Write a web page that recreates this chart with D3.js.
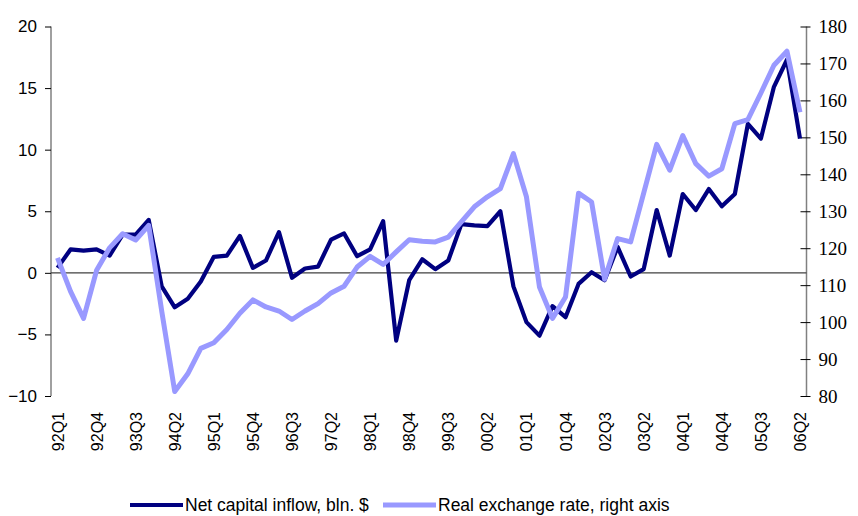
<!DOCTYPE html>
<html>
<head>
<meta charset="utf-8">
<script src="https://cdn.jsdelivr.net/npm/d3@7"></script>
<style>
  body { margin: 0; background: #fff; }
  svg { display: block; }
</style>
</head>
<body>
<svg id="chart" width="858" height="516"></svg>
<script>
// quarters 92Q1 .. 06Q2
const quarters = [];
for (let y = 1992; y <= 2006; y++) {
    for (let q = 1; q <= 4; q++) {
        if (y === 2006 && q > 2) break;
        quarters.push(String(y % 100).padStart(2, "0") + "Q" + q);
    }
}

// Net capital inflow, bln. $ (left axis)
const capitalInflow = [
    0.4, 1.9, 1.8, 1.9, 1.4, 3.1, 3.1, 4.3, -1.1, -2.8,
    -2.1, -0.7, 1.3, 1.4, 3.0, 0.4, 1.0, 3.3, -0.4, 0.35,
    0.5, 2.7, 3.2, 1.35, 1.9, 4.2, -5.5, -0.6, 1.1, 0.3,
    1.0, 3.95, 3.85, 3.8, 5.0, -1.1, -4.0, -5.1, -2.7, -3.6,
    -0.9, 0.05, -0.6, 2.1, -0.3, 0.3, 5.1, 1.4, 6.4, 5.1,
    6.8, 5.4, 6.4, 12.1, 10.9, 15.1, 17.3, 10.9
];

// Real exchange rate (right axis)
const exchangeRate = [
    117.4, 108.3, 101, 114, 120.1, 123.9, 122.2, 126.2, 103, 81.2,
    86, 92.9, 94.4, 98, 102.4, 106, 104.1, 103, 100.7, 103,
    105, 107.9, 109.7, 114.9, 117.8, 115.6, 119, 122.3, 121.9, 121.7,
    123, 127.1, 131.2, 133.9, 136.1, 145.6, 133.9, 109.5, 101, 106.8,
    134.9, 132.5, 111.6, 122.6, 121.7, 134.9, 148.1, 141.1, 150.5, 142.9,
    139.5, 141.5, 153.7, 154.8, 162, 169.5, 173.3, 156.8
];

const leftTicks = [-10, -5, 0, 5, 10, 15, 20];
const rightTicks = [80, 90, 100, 110, 120, 130, 140, 150, 160, 170, 180];
const labelEvery = 3;

const seriesNames = ["Net capital inflow, bln. $", "Real exchange rate, right axis"];
const colors = ["#000080", "#9999ff"];

const plot = { left: 51, right: 806.5, top: 26.5, bottom: 396 };

const svg = d3.select("#chart");

const x = d3.scaleBand()
    .domain(quarters)
    .range([plot.left, plot.right]);
const cx = d => x(d) + x.bandwidth() / 2;

const yLeft = d3.scaleLinear().domain([-10, 20]).range([plot.bottom, plot.top]);
const yRight = d3.scaleLinear().domain([80, 180]).range([plot.bottom, plot.top]);

// left axis
const leftAxis = svg.append("g")
    .attr("transform", `translate(${plot.left},0)`)
    .call(d3.axisLeft(yLeft).tickValues(leftTicks).tickSize(6).tickPadding(8));
leftAxis.select(".domain").attr("stroke", "#808080").attr("stroke-width", 1.5)
    .attr("d", `M0,${plot.top}V${plot.bottom}`);
leftAxis.selectAll(".tick line").attr("stroke", "#000");
leftAxis.selectAll(".tick text")
    .attr("font-family", "Liberation Sans, Arial, sans-serif")
    .attr("font-size", 17).attr("fill", "#000");

// right axis
const rightAxis = svg.append("g")
    .attr("transform", `translate(${plot.right},0)`)
    .call(d3.axisRight(yRight).tickValues(rightTicks).tickSize(4).tickPadding(8));
rightAxis.select(".domain").attr("stroke", "#808080").attr("stroke-width", 1.5)
    .attr("d", `M0,${plot.top}V${plot.bottom}`);
rightAxis.selectAll(".tick line").attr("stroke", "#000").attr("x1", -6);
rightAxis.selectAll(".tick text")
    .attr("font-family", "Liberation Serif, Times New Roman, serif")
    .attr("font-size", 19).attr("fill", "#000");

// zero line
svg.append("line")
    .attr("x1", plot.left).attr("x2", plot.right)
    .attr("y1", yLeft(0)).attr("y2", yLeft(0))
    .attr("stroke", "#404040").attr("stroke-width", 1.2);

// category labels
svg.append("g")
    .selectAll("text")
    .data(quarters.filter((d, i) => i % labelEvery === 0))
    .join("text")
    .attr("transform", d => `translate(${cx(d) + 6},${plot.bottom + 16}) rotate(-90)`)
    .attr("text-anchor", "end")
    .attr("font-family", "Liberation Sans, Arial, sans-serif")
    .attr("font-size", 16)
    .text(d => d);

// lines
const lineLeft = d3.line().x((d, i) => cx(quarters[i])).y(d => yLeft(d));
const lineRight = d3.line().x((d, i) => cx(quarters[i])).y(d => yRight(d));

svg.append("path")
    .datum(capitalInflow)
    .attr("d", lineLeft)
    .attr("fill", "none")
    .attr("stroke", colors[0])
    .attr("stroke-width", 4.2)
    .attr("stroke-linejoin", "round");

svg.append("path")
    .datum(exchangeRate)
    .attr("d", lineRight)
    .attr("fill", "none")
    .attr("stroke", colors[1])
    .attr("stroke-width", 5)
    .attr("stroke-linejoin", "round");

// legend
const legendX = [130, 383];
const legend = svg.append("g")
    .selectAll("g")
    .data(seriesNames)
    .join("g")
    .attr("transform", (d, i) => `translate(${legendX[i]},505)`);
legend.append("line")
    .attr("x1", 0).attr("x2", 53)
    .attr("stroke", (d, i) => colors[i])
    .attr("stroke-width", (d, i) => i === 0 ? 4.2 : 5);
legend.append("text")
    .attr("x", 55).attr("y", 6)
    .attr("font-family", "Liberation Sans, Arial, sans-serif")
    .attr("font-size", 17.5)
    .text(d => d);
</script>
</body>
</html>
